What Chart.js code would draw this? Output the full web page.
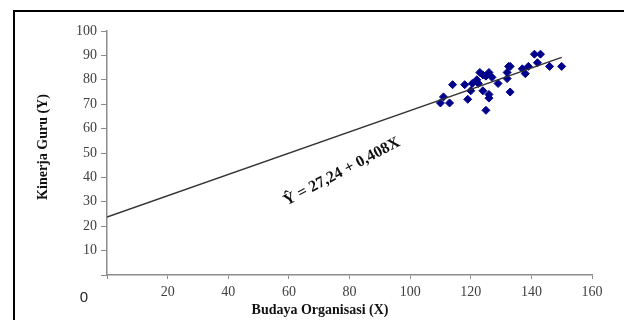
<!DOCTYPE html>
<html>
<head>
<meta charset="utf-8">
<script src="https://cdn.jsdelivr.net/npm/chart.js@4"></script>
<style>
  html, body { margin: 0; padding: 0; background: #fff; }
  #wrap { width: 624px; height: 320px; position: relative; }
</style>
</head>
<body>
<div id="wrap"><canvas id="regChart" width="624" height="320"></canvas></div>
<script>
// Budaya Organisasi (X) vs Kinerja Guru (Y)
const budayaX = [110, 111, 113, 114, 118, 119, 120, 120.5, 122, 122.5, 123, 124, 124, 125, 125, 126, 126, 126,
    127, 129, 132, 132, 132.5, 133, 133, 137, 138, 139, 141, 142, 143, 146, 150];
const kinerjaY = [70.5, 73, 70.5, 78, 78, 72, 75.5, 78.5, 80, 78.5, 83, 75.5, 82, 81.5, 67.5, 83, 72.5, 74,
    81, 78.5, 83, 80.5, 85.5, 85.5, 75, 84.5, 82.5, 85.5, 90.5, 87, 90.5, 85.5, 85.5];

// regression line as drawn in the picture (end points)
const lineX = [0, 150];
const lineY = [23.8, 89.2];

const xTicks = [0, 20, 40, 60, 80, 100, 120, 140, 160];
const yTicks = [0, 10, 20, 30, 40, 50, 60, 70, 80, 90, 100];

const equationText = 'Ŷ = 27,24 + 0,408X';

const serif = "'Liberation Serif', 'Times New Roman', serif";

const extras = {
    id: 'extras',
    beforeDraw(chart) {
        const ctx = chart.ctx;
        ctx.save();
        // frame
        ctx.strokeStyle = '#000';
        ctx.lineWidth = 2;
        ctx.beginPath();
        ctx.moveTo(14, 320);
        ctx.lineTo(14, 11);
        ctx.lineTo(624, 11);
        ctx.stroke();
        ctx.restore();
    },
    afterDraw(chart) {
        const ctx = chart.ctx;
        const xs = chart.scales.x, ys = chart.scales.y;
        ctx.save();
        ctx.fillStyle = '#111';
        ctx.textAlign = 'center';
        ctx.textBaseline = 'middle';
        // axis titles
        ctx.font = 'bold 14px ' + serif;
        ctx.fillText('Budaya Organisasi (X)', 320, 310);
        ctx.save();
        ctx.translate(43, 147);
        ctx.rotate(-Math.PI / 2);
        ctx.fillText('Kinerja Guru (Y)', 0, 0);
        ctx.restore();
        // origin label
        ctx.font = '15px "Liberation Sans", Arial, sans-serif';
        ctx.fillStyle = '#222';
        ctx.fillText('0', 84, 298);
        // equation
        ctx.save();
        ctx.translate(xs.getPixelForValue(77.5), ys.getPixelForValue(42.3));
        ctx.rotate(-28 * Math.PI / 180);
        ctx.font = 'bold 16px ' + serif;
        ctx.fillStyle = '#111';
        ctx.fillText(equationText, 0, 0);
        ctx.restore();
        ctx.restore();
    }
};

const ctx = document.getElementById('regChart');
new Chart(ctx, {
    type: 'scatter',
    data: {
        datasets: [
            {
                label: 'Regresi',
                data: lineX.map((x, i) => ({ x: x, y: lineY[i] })),
                showLine: true,
                borderColor: '#333',
                borderWidth: 1.5,
                pointRadius: 0,
                fill: false
            },
            {
                label: 'Data',
                data: budayaX.map((x, i) => ({ x: x, y: kinerjaY[i] })),
                pointStyle: 'rectRot',
                pointRadius: 4,
                backgroundColor: '#00008b',
                borderColor: '#00008b',
                borderWidth: 1
            }
        ]
    },
    options: {
        responsive: false,
        animation: false,
        layout: {
            padding: { top: 31, right: 32, left: 0, bottom: 0 }
        },
        scales: {
            x: {
                type: 'linear',
                min: 0,
                max: 160,
                afterBuildTicks: (scale) => { scale.ticks = xTicks.map(v => ({ value: v })); },
                afterFit: (scale) => { scale.height = 45; },
                grid: {
                    drawOnChartArea: false,
                    drawTicks: true,
                    tickLength: 4,
                    color: '#8c8c8c'
                },
                border: { color: '#8c8c8c', width: 1.5 },
                ticks: {
                    color: '#404040',
                    padding: 5,
                    maxRotation: 0,
                    font: { family: serif, size: 14 },
                    callback: (v) => v === 0 ? '' : v
                }
            },
            y: {
                type: 'linear',
                min: 0,
                max: 100,
                afterBuildTicks: (scale) => { scale.ticks = yTicks.map(v => ({ value: v })); },
                afterFit: (scale) => { scale.width = 107; },
                grid: {
                    drawOnChartArea: false,
                    drawTicks: true,
                    tickLength: 6,
                    color: '#8c8c8c'
                },
                border: { color: '#8c8c8c', width: 1.5 },
                ticks: {
                    color: '#404040',
                    padding: 4,
                    font: { family: serif, size: 14 },
                    callback: (v) => v === 0 ? '' : v
                }
            }
        },
        plugins: {
            legend: { display: false },
            tooltip: { enabled: false }
        }
    },
    plugins: [extras]
});
</script>
</body>
</html>
